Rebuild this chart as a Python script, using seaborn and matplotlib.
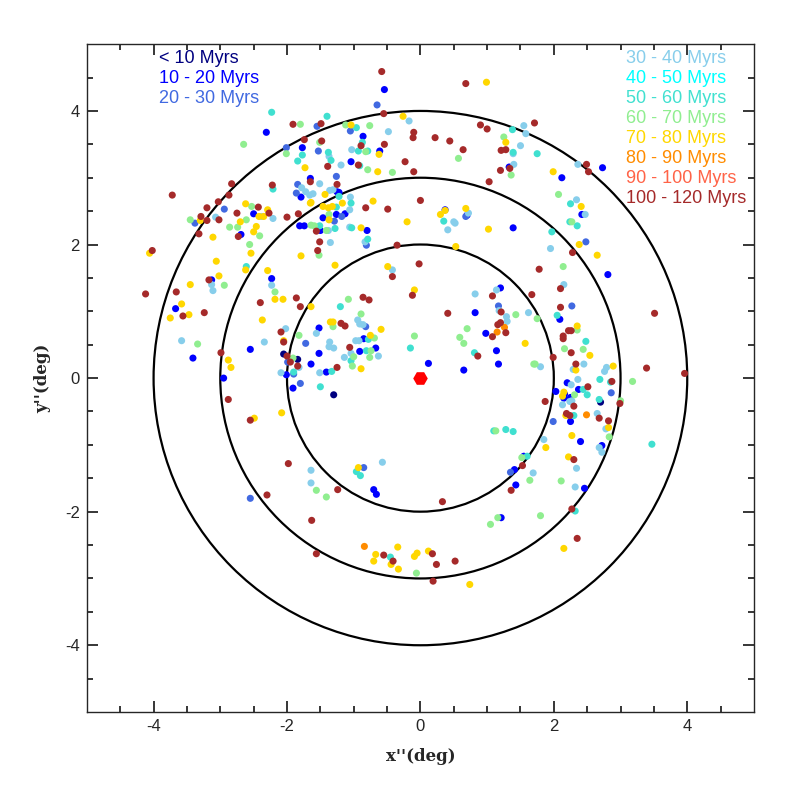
from matplotlib import pyplot as plt
from matplotlib.patches import Circle
import pandas as pd
import seaborn as sns

# age groups, label colours as in the legend
groups = ['< 10 Myrs', '10 - 20 Myrs', '20 - 30 Myrs', '30 - 40 Myrs', '40 - 50 Myrs',
          '50 - 60 Myrs', '60 - 70 Myrs', '70 - 80 Myrs', '80 - 90 Myrs',
          '90 - 100 Myrs', '100 - 120 Myrs']
colors = ['#000080', '#0000FF', '#4169E1', '#87CEEB', '#00FFFF', '#40E0D0',
          '#90EE90', '#FFD700', '#FF8C00', '#FF6347', '#A52A2A']

# positions (x'', y'') in degrees
pts_lt10 = [(-2.05, 0.36), (-1.84, 0.28), (-1.30, -0.25), (2.70, -0.36)]

pts_10_20 = [(-2.31, 3.68), (-1.77, 3.45), (-1.65, 2.99), (-1.79, 2.71), (-2.50, 2.46), (-2.69, 2.15),
             (-1.81, 2.28), (-1.74, 2.28), (-0.54, 4.32), (-0.86, 3.62), (-0.61, 3.40), (-1.04, 3.24),
             (-1.25, 2.79), (-1.22, 2.78), (0.37, 2.52), (0.70, 2.44), (-1.46, 2.40), (-1.26, 2.45),
             (-1.13, 2.46), (-1.50, 2.21), (-0.80, 2.21), (1.39, 2.25), (1.33, 3.16), (2.73, 3.15),
             (2.12, 3.00), (2.42, 2.45), (-3.13, 1.47), (-2.23, 1.49), (-3.67, 1.04), (-3.41, 0.30),
             (-2.55, 0.43), (-2.95, 0.00), (-1.64, 0.21), (-2.01, 0.05), (-1.91, -0.15), (-1.52, 0.75),
             (-0.85, 0.59), (-0.67, 0.45), (-0.91, 0.40), (-1.52, 0.37), (-1.41, 0.09), (0.12, 0.22),
             (0.82, 0.98), (1.20, 1.35), (0.98, 0.67), (1.14, 0.41), (1.17, 0.21), (0.65, 0.12),
             (-0.70, -1.67), (-0.66, -1.74), (1.55, -1.17), (1.41, -1.37), (1.43, -1.60), (2.81, 1.55),
             (2.09, 0.88), (2.20, -0.07), (2.37, -0.17), (2.03, -0.20), (2.16, -0.24), (2.15, -0.30),
             (2.25, -0.29), (2.25, -0.65), (2.40, -0.95), (2.72, -1.01), (2.46, -1.65), (1.21, -2.09)]

pts_20_30 = [(-2.01, 3.45), (-1.84, 2.90), (-1.86, 2.77), (-2.94, 2.53), (-3.38, 2.32), (-0.65, 4.09),
             (-1.55, 3.77), (-1.05, 3.70), (-1.53, 3.40), (-1.26, 3.02), (0.68, 2.42), (-1.18, 2.42),
             (-1.29, 2.35), (-0.81, 1.99), (2.48, 2.04), (-1.72, 0.52), (-1.99, 0.24), (-1.90, 0.06),
             (-1.80, -0.08), (-0.82, 0.77), (1.17, 1.08), (-0.85, -1.34), (1.35, -1.41), (2.27, 1.08),
             (2.86, -0.22), (1.99, -0.65), (-2.55, -1.80)]

pts_30_40 = [(-1.78, 2.85), (-1.72, 2.79), (-1.66, 2.74), (-2.21, 2.39), (-2.38, 2.42), (-3.07, 2.41),
             (-0.17, 3.85), (-0.48, 3.69), (-1.37, 3.32), (-1.03, 3.42), (-1.19, 3.19), (1.39, 3.36),
             (1.50, 3.48), (1.55, 3.78), (1.58, 3.66), (1.40, 3.20), (-1.51, 2.91), (-1.36, 2.81),
             (-1.31, 2.82), (-1.61, 2.76), (-1.05, 2.71), (-1.06, 2.52), (0.72, 2.47), (-1.38, 2.21),
             (-1.06, 2.26), (-0.83, 2.04), (0.50, 2.34), (0.52, 2.32), (0.41, 2.22), (-1.35, 2.03),
             (2.36, 3.20), (2.34, 2.67), (2.47, 2.45), (1.95, 1.94), (-3.13, 1.40), (-3.11, 1.31),
             (-2.23, 1.39), (-2.02, 0.74), (-2.34, 0.54), (-3.58, 0.56), (-1.82, 0.16), (-2.09, 0.08),
             (-1.64, -1.38), (-1.64, -1.57), (-0.42, 1.62), (-0.94, 0.87), (-0.91, 0.81), (-0.86, 0.80),
             (-1.56, 0.67), (-0.97, 0.56), (-0.92, 0.56), (-1.36, 0.54), (-1.37, 0.47), (-1.30, 0.45),
             (-1.04, 0.37), (-1.14, 0.31), (-0.63, 0.33), (-1.51, 0.08), (0.82, 1.26), (1.14, 1.32),
             (1.18, 1.01), (1.29, 0.92), (1.30, 0.85), (1.62, 0.98), (-0.57, -1.26), (1.69, -1.42),
             (2.15, 1.40), (2.45, 0.21), (1.80, 0.17), (2.29, 0.13), (2.79, 0.16), (2.76, 0.10),
             (2.36, -0.02), (2.26, -0.10), (2.27, -0.34), (2.24, -0.35), (2.13, -0.40), (2.65, -0.53),
             (2.78, -0.76), (1.85, -0.92), (2.68, -1.04), (2.72, -1.11), (2.34, -1.35), (2.32, -1.63)]

pts_40_50 = []

pts_50_60 = [(-2.23, 3.98), (-1.77, 3.34), (-1.84, 3.25), (-2.21, 2.83), (-1.40, 3.92), (-0.96, 3.75),
             (-0.87, 3.53), (-1.38, 3.38), (-1.34, 3.26), (-0.93, 3.40), (-0.79, 3.40), (-0.91, 3.18),
             (1.38, 3.72), (1.39, 3.38), (-1.22, 2.72), (-1.04, 2.62), (-1.26, 2.56), (-1.51, 2.28),
             (-1.28, 2.24), (-1.03, 2.25), (-0.79, 2.08), (0.35, 2.35), (1.75, 3.36), (2.25, 2.61),
             (2.24, 2.34), (2.35, 2.28), (1.97, 2.19), (-2.61, 1.67), (-1.90, 0.09), (-1.20, 1.07),
             (-0.78, 0.58), (-0.81, 0.41), (-1.04, 0.26), (-1.33, 0.10), (-1.50, -0.13), (-0.15, 0.45),
             (0.81, 0.38), (1.10, -0.79), (1.28, -0.77), (1.39, -0.80), (-0.96, -1.40), (-0.90, -1.46),
             (1.60, -1.17), (2.05, 0.94), (2.48, 0.55), (2.69, -0.02), (2.85, -0.06), (2.44, -0.17),
             (2.50, -0.25), (2.68, -0.32), (2.30, -0.56), (3.47, -0.99), (-0.45, -2.68), (2.32, -1.99)]

pts_60_70 = [(-1.80, 3.80), (-2.65, 3.50), (-2.01, 3.36), (-2.53, 2.57), (-3.45, 2.37), (-2.61, 2.37),
             (-2.86, 2.26), (-2.74, 2.26), (-2.41, 2.13), (-1.64, 2.29), (-2.56, 2.00), (-1.12, 3.79),
             (-0.76, 3.78), (-1.51, 3.53), (-0.82, 3.39), (-0.79, 3.12), (-0.42, 3.08), (0.57, 3.29),
             (1.25, 3.61), (1.36, 3.04), (-1.37, 2.45), (-1.59, 2.28), (-1.41, 2.21), (-1.52, 1.84),
             (2.07, 2.75), (2.27, 2.34), (2.14, 1.67), (-2.94, 1.39), (-2.18, 1.29), (-1.82, 0.64),
             (-3.34, 0.51), (-1.91, 0.30), (-1.08, 1.18), (-0.89, 0.96), (-1.31, 0.77), (-0.69, 0.60),
             (-0.74, 0.41), (-1.00, 0.32), (-0.76, 0.31), (-1.02, 0.18), (-0.09, 0.63), (1.43, 0.95),
             (0.70, 0.74), (0.59, 0.61), (0.65, 0.52), (1.70, 0.21), (1.13, -0.79), (-1.56, -1.68),
             (1.52, -1.19), (1.64, -1.53), (1.75, 0.89), (2.35, 0.72), (2.16, 0.44), (2.44, 0.43),
             (1.72, 0.21), (3.18, -0.05), (2.31, -0.25), (3.00, -0.34), (2.83, -0.88), (2.11, -1.54),
             (-1.41, -1.78), (1.16, -2.09), (1.05, -2.19), (-0.06, -2.92), (1.80, -2.06)]

pts_70_80 = [(-1.73, 3.15), (-1.65, 2.62), (-2.62, 2.61), (-2.29, 2.52), (-2.42, 2.42), (-2.35, 2.42),
             (-3.30, 2.36), (-2.70, 2.34), (-2.46, 2.27), (-2.50, 2.19), (-3.11, 2.11), (-4.06, 1.87),
             (-2.54, 1.87), (-1.79, 1.83), (-3.06, 1.75), (-0.26, 3.92), (0.99, 4.43), (-1.04, 3.79),
             (-0.62, 3.35), (-0.64, 3.09), (1.28, 3.53), (-1.43, 2.75), (-1.17, 2.62), (-0.71, 2.65),
             (-1.64, 2.63), (-1.46, 2.57), (-1.38, 2.55), (-1.32, 2.57), (0.37, 2.51), (0.30, 2.45),
             (0.68, 2.54), (-1.37, 2.37), (-0.89, 2.25), (-0.20, 2.34), (1.02, 2.23), (0.53, 1.97),
             (-1.28, 1.69), (-0.49, 1.67), (1.99, 3.09), (2.41, 2.57), (2.38, 2.00), (2.65, 1.84),
             (-2.62, 1.62), (-2.29, 1.61), (-3.02, 1.53), (-3.45, 1.40), (-2.18, 1.18), (-2.06, 1.18),
             (-1.64, 1.07), (-3.58, 1.11), (-3.75, 0.90), (-3.47, 0.95), (-2.37, 0.87), (-2.05, 0.56),
             (-2.88, 0.27), (-2.84, 0.16), (-2.08, -0.52), (-2.49, -0.60), (-0.09, 1.32), (-1.35, 0.84),
             (-1.31, 0.84), (-0.59, 0.73), (-0.75, 0.64), (-0.89, 0.14), (1.57, 0.52), (-0.93, -1.34),
             (2.35, 0.78), (2.54, 0.34), (2.33, 0.12), (2.89, 0.18), (2.15, -0.21), (2.13, -0.27),
             (2.18, -0.56), (2.82, -0.74), (2.27, -0.86), (1.88, -1.04), (2.22, -1.18), (-0.34, -2.53),
             (-0.67, -2.64), (-0.70, -2.74), (-0.44, -2.79), (-0.33, -2.86), (-0.05, -2.62),
             (-0.09, -2.67), (0.12, -2.59), (0.74, -3.09), (2.15, -2.55)]

pts_80_90 = [(1.26, 0.76), (1.15, 0.69), (2.49, -0.55), (-0.84, -2.52)]

pts_90_100 = []

pts_100_120 = [(-1.91, 3.80), (-1.74, 3.57), (-1.65, 2.94), (-2.22, 2.89), (-2.83, 2.91), (-2.87, 2.74),
               (-1.83, 2.46), (-3.72, 2.74), (-3.03, 2.64), (-3.20, 2.55), (-2.43, 2.56), (-2.27, 2.47),
               (-2.75, 2.47), (-2.00, 2.41), (-3.02, 2.37), (-3.29, 2.42), (-3.20, 2.36), (-2.73, 2.12),
               (-3.32, 2.16), (-4.02, 1.91), (-0.58, 4.59), (-0.55, 3.96), (0.68, 4.41), (-1.49, 3.81),
               (-0.10, 3.68), (-0.11, 3.60), (0.22, 3.60), (0.44, 3.55), (-1.48, 3.55), (-0.89, 3.48),
               (-0.54, 3.50), (-1.39, 3.17), (-0.93, 3.19), (-0.23, 3.24), (-0.10, 3.09), (0.64, 3.42),
               (0.90, 3.79), (1.00, 3.73), (1.21, 3.41), (1.28, 3.42), (1.71, 3.82), (1.34, 3.14),
               (1.20, 3.11), (1.03, 2.94), (-1.25, 2.90), (-0.82, 2.55), (-0.49, 2.53), (0.00, 2.66),
               (-1.56, 2.20), (-1.51, 2.04), (-1.54, 1.91), (-0.35, 1.99), (-0.02, 1.71), (2.49, 3.20),
               (2.52, 3.09), (2.28, 1.88), (1.78, 1.63), (-3.17, 1.47), (-3.66, 1.29), (-4.12, 1.26),
               (-1.86, 1.20), (-1.80, 1.07), (-2.40, 1.13), (-3.56, 0.93), (-3.24, 0.98), (-2.09, 0.69),
               (-2.05, 0.54), (-2.99, 0.38), (-2.88, -0.32), (-2.00, 0.33), (-1.95, 0.24), (-1.84, 0.18),
               (-2.55, -0.63), (-1.98, -1.28), (-0.42, 1.52), (-0.12, 1.24), (-0.86, 1.21), (-0.77, 1.17),
               (-1.19, 0.82), (-1.13, 0.78), (-1.06, 0.46), (-1.25, 0.16), (0.41, 0.97), (1.08, 1.23),
               (1.67, 1.25), (1.21, 0.99), (1.16, 0.80), (1.20, 0.83), (1.28, 0.68), (1.08, 0.62),
               (0.86, 0.33), (1.53, -1.31), (1.36, -1.68), (-1.24, -1.67), (2.10, 1.34), (2.10, 1.06),
               (2.22, 0.71), (2.26, 0.71), (2.14, 0.63), (2.14, 0.59), (2.26, 0.38), (1.99, 0.31),
               (3.51, 0.97), (2.33, 0.21), (3.39, 0.15), (3.96, 0.07), (2.87, -0.05), (2.51, -0.13),
               (2.30, -0.42), (2.99, -0.38), (1.87, -0.35), (2.19, -0.53), (2.24, -0.56), (2.68, -0.60),
               (2.82, -0.64), (2.30, -1.22), (-2.30, -1.75), (-1.63, -2.13), (0.33, -1.85), (-1.56, -2.63),
               (-0.55, -2.65), (-0.41, -2.74), (0.18, -2.63), (0.24, -2.79), (0.52, -2.74), (0.19, -3.04),
               (2.27, -1.96), (2.35, -2.40)]

center = [(0.0, 0.0)]
radii = [2, 3, 4]

all_pts = [pts_lt10, pts_10_20, pts_20_30, pts_30_40, pts_40_50, pts_50_60,
           pts_60_70, pts_70_80, pts_80_90, pts_90_100, pts_100_120]

rows = []
for g, pts in zip(groups, all_pts):
    for x, y in pts:
        rows.append({'x': x, 'y': y, 'age': g})
data = pd.DataFrame(rows)
cen = pd.DataFrame(center, columns=['x', 'y'])

sns.set_style("ticks")
plt.rcParams['font.family'] = ['Liberation Sans', 'DejaVu Sans']
plt.rcParams['axes.unicode_minus'] = False

fig = plt.figure(figsize=(7.97, 7.97), dpi=100)
ax = fig.add_axes([0.109, 0.1066, 0.837, 0.838])

for r in radii:
    ax.add_patch(Circle((0, 0), r, fill=False, color='black', lw=1.6, zorder=1))

sns.scatterplot(
    data=data, x='x', y='y', hue='age',
    hue_order=groups, palette=dict(zip(groups, colors)),
    s=26, linewidth=0, legend=False, ax=ax, zorder=2
)
sns.scatterplot(data=cen, x='x', y='y', marker='H', color='red',
                s=110, linewidth=0, ax=ax, zorder=3)

ax.set_xlim(-5, 5)
ax.set_ylim(-5, 5)
ax.set_xticks([-4, -2, 0, 2, 4])
ax.set_yticks([-4, -2, 0, 2, 4])
ax.set_xticks([v / 2 for v in range(-9, 10)], minor=True)
ax.set_yticks([v / 2 for v in range(-9, 10)], minor=True)
ax.tick_params(which='both', direction='in', top=True, right=True, labelsize=12, width=1.3)
ax.tick_params(which='major', length=8, pad=5)
ax.tick_params(which='minor', length=4.5)
for sp in ax.spines.values():
    sp.set_linewidth(1.0)

ax.set_xlabel("x''(deg)", family='DejaVu Serif', weight='bold', fontsize=12, labelpad=10)
ax.set_ylabel("y''(deg)", family='DejaVu Serif', weight='bold', fontsize=12, labelpad=10)

# colour-coded age labels
for i in range(3):
    ax.text(0.108, 0.979 - i * 0.03, groups[i], color=colors[i], fontsize=13,
            transform=ax.transAxes, va='center', ha='left')
for i in range(3, len(groups)):
    ax.text(0.808, 0.979 - (i - 3) * 0.03, groups[i], color=colors[i], fontsize=13,
            transform=ax.transAxes, va='center', ha='left')

plt.savefig("out.png", dpi=100)
